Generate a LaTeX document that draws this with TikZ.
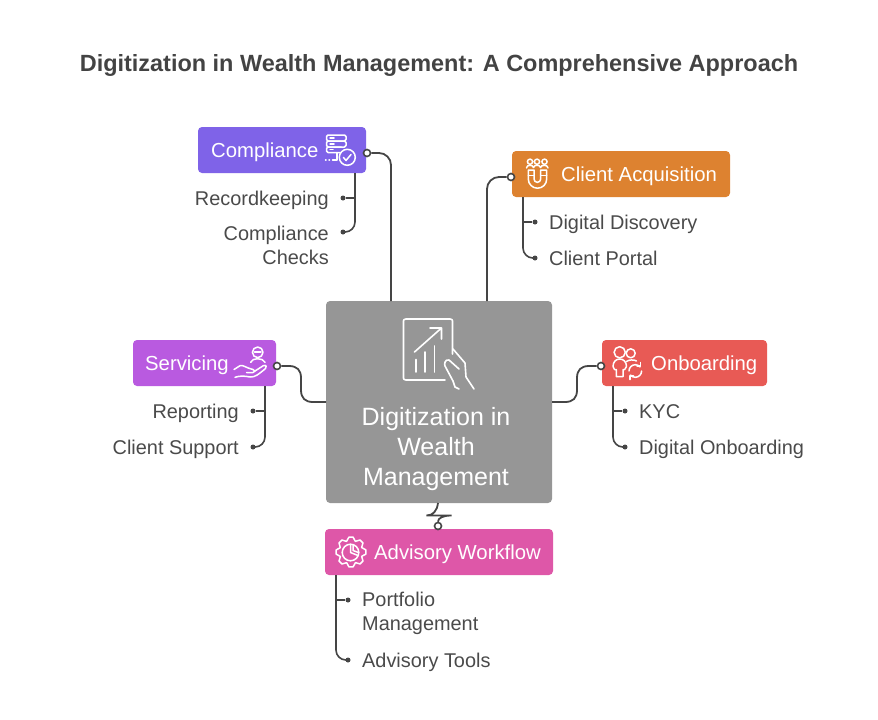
\documentclass[tikz,border=0pt]{standalone}
\usepackage{fontspec}
\setmainfont{Liberation Sans}
\usetikzlibrary{positioning}

\definecolor{titlegray}{HTML}{434343}
\definecolor{textgray}{HTML}{4A4A4A}
\definecolor{linegray}{HTML}{454545}
\definecolor{digitgray}{HTML}{969696}
\definecolor{compliancecol}{HTML}{7F63E8}
\definecolor{clientcol}{HTML}{DD8230}
\definecolor{servicingcol}{HTML}{B95AE0}
\definecolor{onboardcol}{HTML}{E85A55}
\definecolor{advisorycol}{HTML}{DE57A8}

\tikzset{
    headbox/.style={rectangle, rounded corners=4pt, inner sep=0pt, minimum height=46pt},
    headtext/.style={text=white, font=\fontsize{20.3}{24}\selectfont, inner sep=0pt},
    subtext/.style={text=textgray, font=\fontsize{19.9}{24}\selectfont, inner sep=0pt},
    link/.style={draw=linegray, line width=1.8pt, rounded corners=12pt},
    sublink/.style={draw=linegray, line width=1.6pt, rounded corners=10pt},
    port/.style={circle, draw=linegray, fill=white, line width=1.6pt, minimum size=7pt, inner sep=0pt},
    tipdot/.style={circle, fill=linegray, minimum size=5pt, inner sep=0pt},
    iconline/.style={draw=white, line width=1.5pt, line cap=round, line join=round},
}

\begin{document}
\begin{tikzpicture}[x=1pt, y=-1pt]
    \useasboundingbox (0,0) rectangle (878,720);

    % Title
    \node[text=titlegray, font=\fontsize{23.45}{28}\bfseries\selectfont, inner sep=0pt] (title) at (439,65) {Digitization in Wealth Management: A Comprehensive Approach};

    % Boxes
    \node[headbox, fill=digitgray, minimum width=226pt, minimum height=202pt] (digit) at (439,402) {};
    \node[headbox, fill=compliancecol, minimum width=168pt] (compliance) at (282,150) {};
    \node[headbox, fill=clientcol, minimum width=218pt] (client) at (621,174) {};
    \node[headbox, fill=servicingcol, minimum width=143pt] (servicing) at (204.5,363) {};
    \node[headbox, fill=onboardcol, minimum width=165pt] (onboard) at (684.5,363) {};
    \node[headbox, fill=advisorycol, minimum width=228pt] (advisory) at (439,552) {};

    % Box texts
    \node[headtext, anchor=base west] (compliancetext) at (211,157) {Compliance};
    \node[headtext, anchor=base west] (clienttext) at (561,181) {Client Acquisition};
    \node[headtext, anchor=base west] (servicingtext) at (145,370) {Servicing};
    \node[headtext, anchor=base west] (onboardtext) at (651,370) {Onboarding};
    \node[headtext, anchor=base west] (advisorytext) at (374,559) {Advisory Workflow};
    \node[text=white, font=\fontsize{25}{30}\selectfont, align=center, inner sep=0pt] (digittext) at (436,449) {Digitization in\\Wealth\\Management};

    % Sub items
    \node[subtext, anchor=base east] (recordtext) at (329,205) {Recordkeeping};
    \node[subtext, anchor=north east, align=right] (checkstext) at (329,226) {Compliance\\Checks};
    \node[subtext, anchor=base west] (discoverytext) at (549,229) {Digital Discovery};
    \node[subtext, anchor=base west] (portaltext) at (549,265) {Client Portal};
    \node[subtext, anchor=base east] (reportingtext) at (239,418) {Reporting};
    \node[subtext, anchor=base east] (supporttext) at (239,454) {Client Support};
    \node[subtext, anchor=base west] (kyctext) at (639,418) {KYC};
    \node[subtext, anchor=base west] (onboardingtext) at (639,454) {Digital Onboarding};
    \node[subtext, anchor=north west, align=left] (portfoliotext) at (362,592) {Portfolio\\Management};
    \node[subtext, anchor=base west] (toolstext) at (362,667) {Advisory Tools};

    % Ports
    \node[port] (complianceport) at (367,153) {};
    \node[port] (clientport) at (511,177) {};
    \node[port] (servicingport) at (277,366) {};
    \node[port] (onboardport) at (601,366) {};
    \node[port] (advisoryport) at (438,526) {};

    % Main links
    \draw[link] (complianceport) -| (391,301);
    \draw[link] (clientport) -| (487,301);
    \draw[linegray, line width=1.8pt] (servicingport) -- (289,366) .. controls (297,366) and (301,370) .. (301,378) -- (301,390) .. controls (301,398) and (305,402) .. (313,402) -- (326,402);
    \draw[linegray, line width=1.8pt] (onboardport) -- (589,366) .. controls (581,366) and (577,370) .. (577,378) -- (577,390) .. controls (577,398) and (573,402) .. (565,402) -- (552,402);
    \draw[linegray, line width=1.8pt] (438,503) .. controls (437,511) and (433,515.5) .. (426.5,515.5) -- (451.5,515.5) .. controls (443,515.5) and (438,518) .. (advisoryport.north);

    % Sub links
    \node[tipdot] (recorddot) at (343,198) {};
    \node[tipdot] (checksdot) at (343,232) {};
    \node[tipdot] (discoverydot) at (535,222) {};
    \node[tipdot] (portaldot) at (535,258) {};
    \node[tipdot] (reportingdot) at (253,411) {};
    \node[tipdot] (supportdot) at (253,447) {};
    \node[tipdot] (kycdot) at (625,411) {};
    \node[tipdot] (onboardingdot) at (625,447) {};
    \node[tipdot] (portfoliodot) at (348,600) {};
    \node[tipdot] (toolsdot) at (348,660) {};

    \draw[sublink] (355,173) |- (checksdot);
    \draw[sublink] (355,198) -- (recorddot);
    \draw[sublink] (523,197) |- (portaldot);
    \draw[sublink] (523,222) -- (discoverydot);
    \draw[sublink] (265,386) |- (supportdot);
    \draw[sublink] (265,411) -- (reportingdot);
    \draw[sublink] (613,386) |- (onboardingdot);
    \draw[sublink] (613,411) -- (kycdot);
    \draw[sublink] (336,575) |- (toolsdot);
    \draw[sublink] (336,600) -- (portfoliodot);

    % Icon compliance
    \draw[iconline, rounded corners=1.5pt] (326.5,135) rectangle (346,141);
    \draw[iconline, rounded corners=1.5pt] (326.5,141) rectangle (346,147);
    \draw[iconline, rounded corners=1.5pt] (340,152.5) -- (326.5,152.5) -- (326.5,147) -- (341,147);
    \draw[iconline] (330,138) -- (334,138) (330,144) -- (334,144) (330,149.7) -- (333,149.7);
    \draw[iconline] (325.5,160) -- (326,160) (329,160) -- (329.5,160) (332.5,160) -- (337,160) -- (337,153);
    \draw[iconline] (347.3,157.3) circle (8);
    \draw[iconline] (343.5,157.5) -- (346,160.5) -- (351,154.5);

    % Icon client
    \draw[iconline] (530,161.7) circle (2.6) (537,161.7) circle (2.6) (544.5,161.7) circle (2.6);
    \draw[iconline] (526.5,168) .. controls (526.5,164.5) and (533,164.5) .. (533.5,167.5) .. controls (534,164.5) and (540,164.5) .. (540.5,167.5) .. controls (541,164.5) and (548,164.5) .. (548,168);
    \draw[iconline] (528.3,170) -- (528.3,179) arc[start angle=180, end angle=0, radius=9.2] -- (546.7,170) -- (540.7,170) -- (540.7,179) arc[start angle=0, end angle=180, radius=3.35] -- (534,170) -- (528.3,170);
    \draw[iconline] (528.3,175.7) -- (534,175.7) (540.7,175.7) -- (546.7,175.7);

    % Icon servicing
    \draw[iconline] (257.7,352.3) circle (5.3);
    \draw[iconline] (254.5,352) -- (261,352);
    \draw[iconline] (250.7,362.3) .. controls (252,357.5) and (263,357.5) .. (265,362.3);
    \draw[iconline] (234,369.5) -- (240,365.7) .. controls (243,364.5) and (246,368) .. (253,369.5) .. controls (255.5,370) and (255.5,372.5) .. (253,372.5) -- (246.7,372.5);
    \draw[iconline] (255,371) -- (263.3,365.7) .. controls (266,364.5) and (267.5,367) .. (265.5,368.5) .. controls (259,374) and (255,377.5) .. (250,377) .. controls (245,376) and (240,375.5) .. (235,377.3);

    % Icon onboarding
    \draw[iconline] (619.7,352.3) circle (5.6);
    \draw[iconline] (630.7,353.3) circle (4.5);
    \draw[iconline] (626.5,361.5) .. controls (629,359.5) and (634,359.5) .. (636.5,361);
    \draw[iconline] (616.3,376.7) -- (616.3,369.5) -- (614.5,369.5) -- (613,366.5) .. controls (613,356.5) and (626.5,356.5) .. (626.5,366.5) -- (624.7,369.5) -- (623,369.5) -- (623,376.7) -- (616.3,376.7);
    \draw[iconline] (629,371) arc[start angle=180, end angle=320, radius=6.3];
    \draw[iconline] (641.6,371) arc[start angle=0, end angle=140, radius=6.3];
    \draw[iconline] (640.5,362.5) -- (640.5,366) -- (637,366);
    \draw[iconline] (630,379.5) -- (630,376) -- (633.5,376);

    % Icon advisory
    \draw[iconline] ([shift={(-8:15)}]351,552) \foreach \a in {0,45,...,315} {
        -- ([shift={(\a+8:15)}]351,552) -- ([shift={(\a+22:11.5)}]351,552) -- ([shift={(\a+37:15)}]351,552)
    } -- cycle;
    \draw[iconline] (350.5,552.5) circle (8.3);
    \draw[iconline] (350.5,544.5) -- (350.5,552.5) -- (358,555.5);
    \draw[iconline] (353,544.5) -- (353,550.5) -- (358.5,552.5);

    % Icon digit
    \draw[iconline, line width=1.6pt] (445,380) -- (406,380) .. controls (404,380) and (403.5,379) .. (403.5,378) -- (403.5,321) .. controls (403.5,320) and (404,319) .. (406,319) -- (450,319) .. controls (452,319) and (452.5,320) .. (452.5,321) -- (452.5,354);
    \draw[iconline, line width=1.6pt] (414.5,352) -- (441.5,328) (430,328) -- (441.5,328) -- (441.5,339);
    \draw[iconline, line width=1.6pt] (416,372) -- (416,359.5) (425,372) -- (425,352) (434.5,372) -- (434.5,346);
    \draw[iconline, line width=1.6pt] (453,349) -- (465,363) -- (466,377) -- (474,389);
    \draw[iconline, line width=1.6pt] (459,369) -- (449,360) .. controls (445,359) and (444,364) .. (445,366) -- (453,381) -- (455,387) -- (459,389);
\end{tikzpicture}
\end{document}
